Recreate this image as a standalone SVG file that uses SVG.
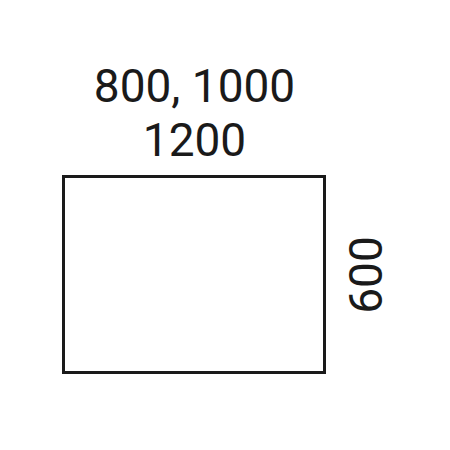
<svg xmlns="http://www.w3.org/2000/svg" width="450" height="450" viewBox="0 0 450 450">
<style>
.t{font-family:Roboto,"Liberation Sans",sans-serif;font-size:46px;fill:#1a1a1a;text-anchor:middle}
</style>
<rect width="450" height="450" fill="#fff"/>
<g id="panel"><rect x="63.5" y="176.5" width="261" height="196" fill="none" stroke="#1a1a1a" stroke-width="3"/></g>
<g id="labels">
<text class="t" x="194.5" y="102">800, 1000</text>
<text class="t" x="194.5" y="156">1200</text>
<text class="t" transform="translate(382,275) rotate(-90)">600</text>
</g>
</svg>
